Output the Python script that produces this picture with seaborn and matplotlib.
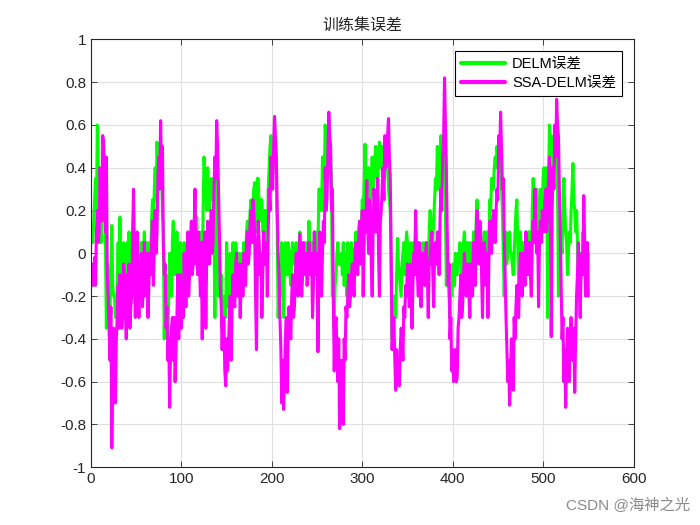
import numpy as np
import pandas as pd
import matplotlib
matplotlib.use("Agg")
import matplotlib.pyplot as plt
import seaborn as sns
from matplotlib.ticker import FuncFormatter

# training sample index
idx = list(range(1, 551))

# DELM error (green)
delm_err = [
    0.10, 0.05, 0.15, 0.25, 0.35, 0.20, 0.60, 0.40, 0.30, 0.35, 0.05, 0.20, 0.35, 0.40, 0.20, 0.05, -0.35, -0.05, -0.10, -0.25, -0.30, -0.05, 0.13, -0.15, -0.20,
    -0.20, -0.30, -0.25, -0.15, 0.05, -0.20, 0.17, -0.10, -0.25, -0.15, 0.05, 0.00, -0.15, -0.30, 0.05, -0.05, 0.10, -0.20, -0.15, -0.10, 0.10, 0.20, 0.00, -0.20, 0.05,
    0.05, -0.05, -0.20, 0.00, 0.05, 0.05, -0.15, 0.00, 0.10, -0.10, -0.05, 0.05, -0.20, -0.05, 0.05, 0.00, 0.15, 0.25, 0.00, 0.30, 0.40, 0.25, 0.52, 0.40, 0.30,
    0.45, 0.45, 0.35, 0.20, 0.10, -0.40, -0.15, -0.10, -0.25, -0.40, -0.20, 0.00, -0.15, -0.20, 0.05, 0.15, -0.05, -0.10, 0.00, 0.10, 0.00, -0.20, -0.05, 0.05, -0.10,
    -0.10, -0.20, 0.05, -0.05, -0.15, 0.00, 0.05, -0.10, 0.00, 0.10, 0.05, 0.00, 0.05, 0.15, 0.20, 0.10, 0.17, 0.00, 0.05, 0.05, -0.10, 0.10, -0.20, 0.20, 0.45,
    0.35, 0.30, 0.20, 0.40, 0.25, 0.20, 0.30, 0.35, 0.25, 0.30, 0.15, -0.30, 0.20, 0.35, 0.40, -0.20, 0.00, -0.20, -0.10, -0.35, -0.20, -0.20, -0.30, -0.30, 0.05,
    -0.25, -0.10, -0.15, 0.00, -0.20, -0.05, 0.05, -0.10, -0.15, 0.05, 0.00, -0.10, 0.00, 0.00, -0.15, -0.05, 0.00, -0.10, 0.05, -0.05, -0.05, 0.10, 0.15, 0.05, 0.10,
    0.20, 0.25, 0.15, 0.20, 0.30, 0.33, 0.15, 0.10, 0.35, 0.35, 0.20, 0.15, 0.25, 0.25, 0.10, 0.10, 0.20, 0.20, 0.10, 0.00, 0.30, 0.40, 0.50, 0.55, 0.50,
    0.45, 0.40, 0.50, 0.45, 0.35, 0.10, -0.30, -0.15, -0.10, -0.20, 0.05, -0.10, -0.30, -0.05, 0.05, -0.05, -0.10, 0.05, 0.00, -0.10, -0.15, 0.00, 0.05, -0.05, -0.05,
    -0.05, 0.05, -0.10, -0.15, 0.00, 0.10, 0.00, -0.15, -0.05, 0.05, 0.00, -0.05, 0.05, -0.10, -0.05, 0.15, 0.00, -0.05, 0.05, -0.20, -0.10, 0.10, 0.00, -0.05, 0.10,
    0.00, 0.30, 0.30, 0.20, 0.20, 0.45, 0.45, 0.35, 0.60, 0.50, 0.40, 0.55, 0.55, 0.50, 0.45, 0.30, -0.20, -0.10, -0.35, -0.15, -0.10, 0.00, 0.05, -0.05, -0.05,
    -0.05, 0.00, -0.10, 0.05, -0.15, -0.05, 0.00, -0.20, 0.05, -0.05, -0.15, 0.00, 0.05, -0.05, 0.00, -0.10, 0.05, 0.10, 0.00, 0.05, 0.10, 0.15, 0.05, 0.10, 0.25,
    0.20, 0.30, 0.51, 0.35, 0.30, 0.40, 0.40, 0.30, 0.20, 0.35, 0.45, 0.30, 0.35, 0.45, 0.50, 0.40, 0.30, 0.45, 0.52, 0.45, 0.40, 0.50, 0.45, 0.35, 0.40,
    0.45, 0.50, 0.40, 0.30, 0.25, 0.20, -0.10, -0.40, -0.25, -0.20, -0.30, -0.30, -0.10, 0.07, -0.05, -0.10, -0.15, -0.20, -0.05, 0.00, 0.05, -0.10, 0.00, 0.10, 0.05,
    -0.05, -0.15, -0.10, 0.05, -0.20, -0.05, 0.05, 0.00, 0.10, 0.05, -0.05, -0.10, 0.05, 0.00, -0.15, -0.05, 0.05, 0.00, -0.10, 0.05, 0.05, -0.05, -0.15, 0.10, 0.20,
    0.15, 0.10, 0.05, 0.15, 0.25, 0.35, 0.30, 0.50, 0.40, 0.30, 0.45, 0.55, 0.45, 0.40, 0.50, 0.50, 0.20, -0.15, 0.00, -0.10, -0.20, -0.30, -0.15, -0.20, -0.05,
    -0.05, -0.15, 0.00, -0.10, -0.10, 0.00, -0.05, 0.05, 0.00, -0.10, -0.05, 0.05, 0.10, -0.05, -0.05, 0.05, 0.05, -0.05, -0.15, 0.05, 0.00, -0.10, 0.10, 0.05, -0.05,
    0.15, 0.25, 0.10, 0.00, 0.15, 0.05, -0.05, -0.10, 0.05, 0.10, 0.00, -0.05, 0.10, -0.10, 0.05, 0.25, 0.20, 0.35, 0.30, 0.30, 0.40, 0.45, 0.40, 0.50, 0.45,
    0.40, 0.50, 0.45, 0.30, 0.20, 0.00, -0.20, 0.00, 0.10, -0.05, 0.00, 0.05, 0.10, 0.00, 0.00, -0.05, -0.10, 0.00, 0.10, 0.20, 0.25, 0.05, -0.15, 0.00, 0.10,
    -0.05, -0.10, 0.05, 0.00, -0.10, 0.10, 0.05, -0.05, 0.10, 0.10, -0.05, -0.10, 0.20, 0.35, 0.25, 0.20, 0.30, 0.30, 0.15, 0.10, 0.20, 0.30, 0.20, 0.20, 0.35,
    0.40, 0.30, 0.25, 0.40, -0.30, 0.30, 0.60, 0.45, 0.55, 0.50, 0.40, 0.45, 0.50, 0.40, 0.45, 0.30, -0.20, 0.00, 0.10, 0.05, 0.00, 0.20, 0.35, 0.20, 0.10,
    0.05, -0.10, 0.00, 0.10, 0.05, 0.20, 0.30, 0.42, 0.25, 0.20, 0.10, 0.20, 0.05, -0.15, -0.05, -0.20, 0.00, -0.05, 0.10, 0.05, -0.10, 0.00, 0.05, -0.15, 0.00,
]

# SSA-DELM error (magenta)
ssa_delm_err = [
    -0.05, -0.15, -0.12, -0.02, -0.15, 0.10, 0.20, 0.05, 0.10, 0.40, 0.30, 0.15, 0.55, 0.50, 0.35, 0.10, 0.45, -0.10, -0.20, -0.35, -0.50, -0.25, -0.91, -0.60, -0.35,
    -0.45, -0.70, -0.40, -0.30, -0.15, -0.35, -0.10, -0.20, -0.35, -0.30, -0.05, -0.10, -0.25, -0.40, -0.10, -0.15, -0.05, -0.35, -0.25, -0.20, 0.05, 0.30, -0.10, -0.30, -0.05,
    0.10, -0.15, -0.30, -0.10, -0.05, 0.00, -0.25, -0.10, 0.05, -0.20, -0.15, 0.00, -0.30, -0.15, 0.00, -0.10, 0.05, 0.15, -0.15, 0.05, 0.20, 0.00, 0.10, 0.35, 0.45,
    0.30, 0.62, 0.40, 0.50, 0.05, -0.10, -0.05, -0.35, -0.25, -0.50, -0.40, -0.72, -0.45, -0.35, -0.30, -0.50, -0.30, -0.60, -0.45, -0.30, -0.10, -0.40, -0.20, -0.10, -0.35,
    -0.20, -0.30, 0.00, -0.15, -0.25, -0.05, 0.10, -0.20, -0.10, 0.05, 0.15, -0.10, -0.05, 0.10, 0.30, -0.05, 0.00, -0.10, 0.10, -0.05, -0.20, 0.05, -0.40, -0.05, 0.05,
    0.10, -0.35, 0.00, 0.15, 0.05, -0.05, 0.10, 0.20, 0.00, 0.05, 0.30, 0.45, 0.35, 0.62, 0.50, 0.30, 0.10, -0.15, -0.25, -0.45, -0.30, -0.30, -0.55, -0.62, -0.40,
    -0.55, -0.45, -0.30, -0.20, -0.50, -0.25, -0.10, -0.20, -0.25, -0.05, 0.00, -0.20, -0.10, -0.05, -0.30, -0.15, -0.05, -0.20, 0.00, -0.10, -0.15, 0.05, 0.10, -0.05, 0.00,
    0.15, 0.20, 0.05, 0.25, 0.20, 0.10, -0.20, -0.45, -0.05, 0.15, 0.05, -0.10, 0.00, -0.30, -0.10, 0.10, -0.05, 0.00, 0.05, -0.20, 0.10, 0.30, 0.20, 0.45, 0.35,
    0.30, 0.50, 0.64, 0.55, 0.45, 0.20, 0.00, -0.10, -0.30, -0.45, -0.70, -0.50, -0.73, -0.55, -0.40, -0.30, -0.65, -0.40, -0.25, -0.35, -0.40, -0.20, -0.10, -0.30, -0.25,
    -0.10, 0.00, -0.15, -0.20, -0.05, 0.09, -0.05, -0.20, -0.10, 0.05, -0.05, -0.10, 0.00, -0.15, -0.10, 0.05, -0.05, -0.10, 0.00, -0.30, -0.15, 0.10, -0.05, -0.10, 0.00,
    -0.46, -0.10, 0.10, -0.05, -0.20, 0.00, 0.15, 0.05, 0.40, 0.20, 0.25, 0.45, 0.66, 0.55, 0.50, 0.20, 0.30, -0.20, -0.55, -0.35, -0.30, -0.45, -0.60, -0.40, -0.82,
    -0.60, -0.50, -0.65, -0.80, -0.40, -0.50, -0.25, -0.30, -0.20, -0.10, -0.25, -0.20, -0.10, -0.05, -0.15, -0.20, 0.00, 0.05, -0.05, -0.10, 0.05, 0.15, -0.05, 0.00, 0.20,
    -0.20, 0.05, 0.20, 0.10, 0.34, 0.15, 0.00, 0.25, 0.20, -0.05, -0.20, 0.10, 0.30, 0.20, 0.10, 0.25, 0.35, 0.00, -0.20, 0.15, 0.20, 0.30, 0.40, 0.25, 0.55,
    0.40, 0.45, 0.55, 0.63, 0.45, 0.35, 0.00, -0.45, -0.35, -0.30, -0.50, -0.64, -0.45, -0.55, -0.60, -0.62, -0.45, -0.35, -0.40, -0.50, -0.25, -0.30, -0.15, -0.20, -0.05,
    -0.10, -0.25, -0.20, -0.05, -0.35, -0.15, 0.00, -0.10, 0.20, 0.00, -0.10, -0.20, 0.05, -0.05, -0.25, -0.10, 0.00, -0.05, -0.15, 0.00, 0.05, -0.10, -0.30, -0.05, -0.05,
    0.05, 0.10, -0.10, -0.25, 0.00, 0.05, -0.05, 0.10, 0.05, -0.10, 0.15, 0.30, 0.20, 0.45, 0.55, 0.82, 0.60, 0.40, 0.10, -0.15, -0.05, -0.40, -0.30, -0.55, -0.45,
    -0.60, -0.50, -0.45, -0.60, -0.58, -0.35, -0.30, -0.20, -0.10, -0.30, -0.25, -0.10, 0.00, -0.15, -0.20, -0.05, -0.05, -0.20, -0.30, -0.05, -0.10, -0.20, 0.05, 0.00, -0.15,
    0.10, 0.20, 0.05, -0.05, 0.15, 0.10, -0.10, -0.30, -0.05, 0.05, -0.05, -0.15, 0.00, -0.30, -0.05, 0.15, 0.05, 0.00, 0.15, 0.20, 0.10, 0.05, 0.20, 0.30, 0.25,
    0.55, 0.45, 0.66, 0.50, 0.30, 0.35, 0.10, -0.10, -0.30, -0.45, -0.60, -0.50, -0.71, -0.55, -0.40, -0.50, -0.64, -0.30, -0.40, -0.25, -0.15, -0.25, -0.30, -0.10, 0.00,
    -0.10, -0.20, 0.00, -0.05, -0.15, 0.10, 0.00, -0.10, 0.05, 0.05, -0.10, -0.20, 0.05, 0.15, 0.05, 0.30, 0.10, 0.00, 0.10, -0.25, 0.05, 0.15, 0.05, 0.20, 0.15,
    0.10, 0.25, 0.30, 0.10, 0.20, 0.35, 0.45, 0.30, -0.39, 0.20, 0.40, 0.30, 0.60, 0.45, 0.72, 0.60, 0.55, 0.30, 0.10, -0.15, -0.40, -0.30, -0.60, -0.45, -0.72,
    -0.50, -0.35, -0.45, -0.60, -0.40, -0.30, -0.45, -0.50, -0.35, -0.65, -0.40, -0.20, -0.10, 0.05, -0.15, -0.30, -0.10, 0.00, -0.10, 0.27, 0.05, -0.20, -0.05, 0.05, -0.20,
]

series_names = ["DELM误差", "SSA-DELM误差"]
x_ticks = [0, 100, 200, 300, 400, 500, 600]
y_ticks = [-1, -0.8, -0.6, -0.4, -0.2, 0, 0.2, 0.4, 0.6, 0.8, 1]
title_text = "训练集误差"
watermark = "CSDN @海神之光"

sns.set_theme(style="whitegrid")
plt.rcParams["font.family"] = ["Liberation Sans", "Noto Sans CJK SC", "DejaVu Sans"]

df = pd.DataFrame({
    "idx": idx + idx,
    "err": delm_err + ssa_delm_err,
    "series": [series_names[0]] * len(idx) + [series_names[1]] * len(idx),
})

fig = plt.figure(figsize=(7, 5.25), dpi=100)
fig.patch.set_facecolor("white")
ax = fig.add_axes([0.13, 0.11, 0.775, 0.815])
ax.set_facecolor("white")

sns.lineplot(data=df, x="idx", y="err", hue="series", hue_order=series_names,
             palette=["#00ff00", "#ff00ff"], linewidth=2.2, sort=False,
             estimator=None, ax=ax)

ax.set_xlim(0, 600)
ax.set_ylim(-1, 1)
ax.set_xticks(x_ticks)
ax.set_yticks(y_ticks)
ax.yaxis.set_major_formatter(FuncFormatter(lambda v, p: f"{v:g}"))
ax.set_xlabel("")
ax.set_ylabel("")
ax.grid(True, color="#dfdfdf", linewidth=0.8)
for s in ax.spines.values():
    s.set_visible(True)
    s.set_color("#262626")
    s.set_linewidth(0.8)
ax.tick_params(axis="both", which="major", direction="in", length=4, width=0.6,
               color="#262626", labelcolor="#262626", labelsize=11,
               top=True, right=True, bottom=True, left=True)
ax.set_title(title_text, fontsize=11.5, color="#262626", pad=6,
             family=["Noto Sans CJK SC", "DejaVu Sans"])

leg = ax.legend(loc="upper right", fancybox=False, edgecolor="black",
                framealpha=1, fontsize=10.5, handlelength=3.0,
                borderaxespad=0.8, borderpad=0.4, labelspacing=0.35,
                handletextpad=0.5)
leg.get_frame().set_linewidth(0.8)
for line in leg.get_lines():
    line.set_linewidth(3.0)
for t in leg.get_texts():
    t.set_color("black")

fig.text(0.985, 0.022, watermark, ha="right", va="bottom", fontsize=11,
         color="#8a8a8a", family=["Liberation Sans", "Noto Sans CJK SC"])

fig.savefig("out.png", dpi=100, facecolor="white")
